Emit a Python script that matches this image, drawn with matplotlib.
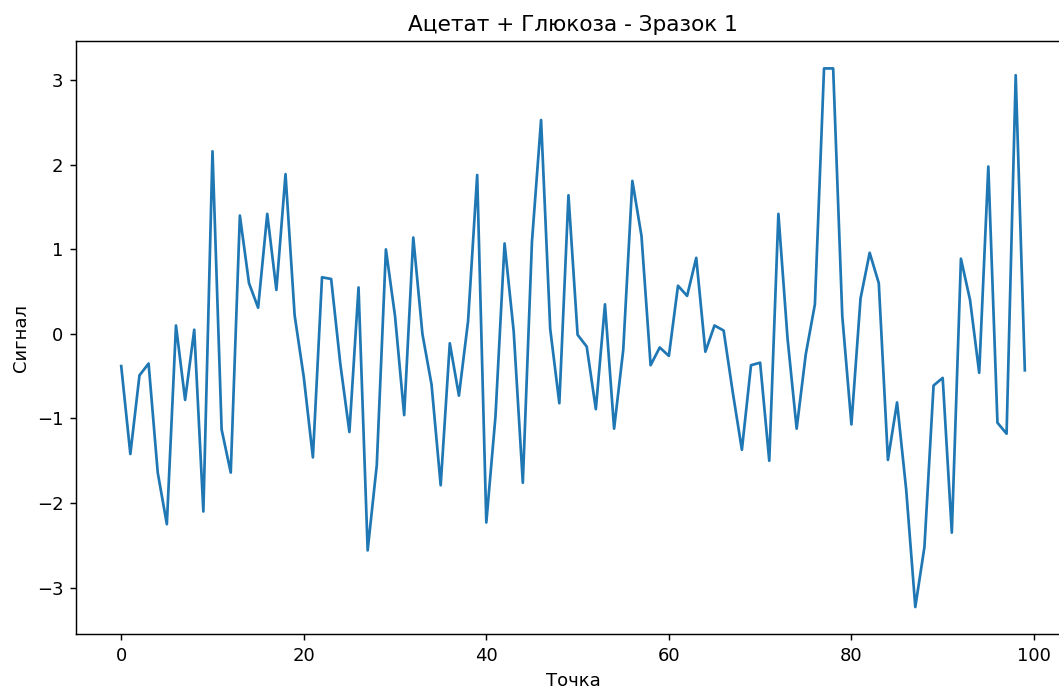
#!/usr/bin/env python3

"""
Signal trace for acetate + glucose, sample 1
"""

import numpy as np
import matplotlib
matplotlib.use("Agg")
import matplotlib.pyplot as plt

TITLE = "Ацетат + Глюкоза - Зразок 1"
X_LABEL = "Точка"
Y_LABEL = "Сигнал"

# signal values, points 0..99
signal = [
    -0.38, -1.42, -0.49, -0.35, -1.64, -2.25, 0.10, -0.78, 0.05, -2.10,
    2.16, -1.13, -1.64, 1.40, 0.60, 0.31, 1.42, 0.52, 1.89, 0.22,
    -0.51, -1.46, 0.67, 0.65, -0.35, -1.16, 0.55, -2.56, -1.55, 1.00,
    0.21, -0.96, 1.14, 0.00, -0.60, -1.79, -0.11, -0.73, 0.15, 1.88,
    -2.23, -0.98, 1.07, 0.03, -1.76, 1.09, 2.53, 0.06, -0.82, 1.64,
    -0.01, -0.15, -0.89, 0.35, -1.12, -0.19, 1.81, 1.16, -0.37, -0.16,
    -0.26, 0.57, 0.45, 0.90, -0.21, 0.10, 0.04, -0.69, -1.37, -0.37,
    -0.34, -1.50, 1.42, -0.05, -1.12, -0.24, 0.35, 3.14, 3.14, 0.21,
    -1.07, 0.42, 0.96, 0.60, -1.49, -0.81, -1.84, -3.23, -2.52, -0.61,
    -0.52, -2.35, 0.89, 0.40, -0.46, 1.98, -1.05, -1.18, 3.06, -0.43,
]
points = np.arange(len(signal))

DPI = 130


def main():
    fig = plt.figure(figsize=(1059 / DPI, 688 / DPI), dpi=DPI)
    # the reference is cropped on the right, so the axes run past the edge
    ax = fig.add_axes([0.0718, 0.0785, 0.9386, 0.8612])
    ax.plot(points, signal, color="#1f77b4", linewidth=1.5)
    ax.set_title(TITLE)
    ax.set_xlabel(X_LABEL)
    ax.set_ylabel(Y_LABEL)
    fig.savefig("out.png", dpi=DPI)


if __name__ == "__main__":
    main()
